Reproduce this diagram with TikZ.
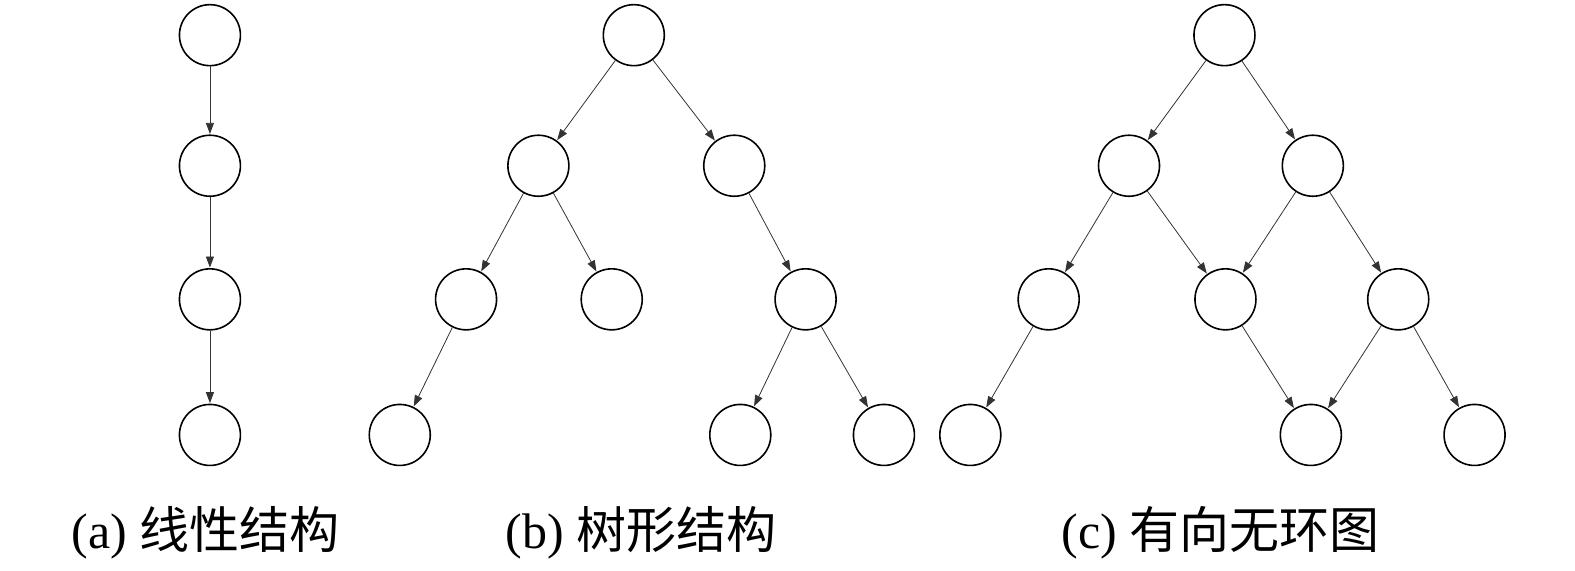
\documentclass[tikz,border=0pt]{standalone}
\usepackage{fontspec}
\setmainfont{Liberation Serif}
\newfontfamily\cjk{Noto Sans CJK SC}
\usetikzlibrary{arrows.meta}
\begin{document}
\begin{tikzpicture}[x=1.0045pt,y=-1.0045pt,
  vert/.style={circle,draw=black,line width=1.6pt,minimum size=61pt,inner sep=0pt},
  edge/.style={draw=black!80,line width=0.8pt,-{Triangle[length=11pt,width=8pt]},shorten >=0.5pt},
  captext/.style={font=\fontsize{50}{56}\selectfont,anchor=center,inner sep=0pt}]
\useasboundingbox (0,0) rectangle (1568,568);
% (a)
\node[vert] (a1) at (209,35) {};
\node[vert] (a2) at (209,165) {};
\node[vert] (a3) at (209,298) {};
\node[vert] (a4) at (209,433) {};
\draw[edge] (a1) -- (a2);
\draw[edge] (a2) -- (a3);
\draw[edge] (a3) -- (a4);
% (b)
\node[vert] (b1) at (631,35) {};
\node[vert] (b2) at (536,165) {};
\node[vert] (b3) at (731,165) {};
\node[vert] (b4) at (464,298) {};
\node[vert] (b5) at (609,298) {};
\node[vert] (b6) at (802,298) {};
\node[vert] (b7) at (398,433) {};
\node[vert] (b8) at (737,433) {};
\node[vert] (b9) at (880,433) {};
\draw[edge] (b1) -- (b2);
\draw[edge] (b1) -- (b3);
\draw[edge] (b2) -- (b4);
\draw[edge] (b2) -- (b5);
\draw[edge] (b3) -- (b6);
\draw[edge] (b4) -- (b7);
\draw[edge] (b6) -- (b8);
\draw[edge] (b6) -- (b9);
% (c)
\node[vert] (c1) at (1219,35) {};
\node[vert] (c2) at (1124,165) {};
\node[vert] (c3) at (1307,165) {};
\node[vert] (c4) at (1044,298) {};
\node[vert] (c5) at (1220,298) {};
\node[vert] (c6) at (1392,298) {};
\node[vert] (c7) at (966,433) {};
\node[vert] (c8) at (1305,433) {};
\node[vert] (c9) at (1468,433) {};
\draw[edge] (c1) -- (c2);
\draw[edge] (c1) -- (c3);
\draw[edge] (c2) -- (c4);
\draw[edge] (c2) -- (c5);
\draw[edge] (c3) -- (c5);
\draw[edge] (c3) -- (c6);
\draw[edge] (c4) -- (c7);
\draw[edge] (c5) -- (c8);
\draw[edge] (c6) -- (c8);
\draw[edge] (c6) -- (c9);
% captions
\node[captext] (la) at (205,530) {(a) {\cjk 线性结构}};
\node[captext] (lb) at (638,530) {(b) {\cjk 树形结构}};
\node[captext] (lc) at (1215,530) {(c) {\cjk 有向无环图}};
\end{tikzpicture}
\end{document}
